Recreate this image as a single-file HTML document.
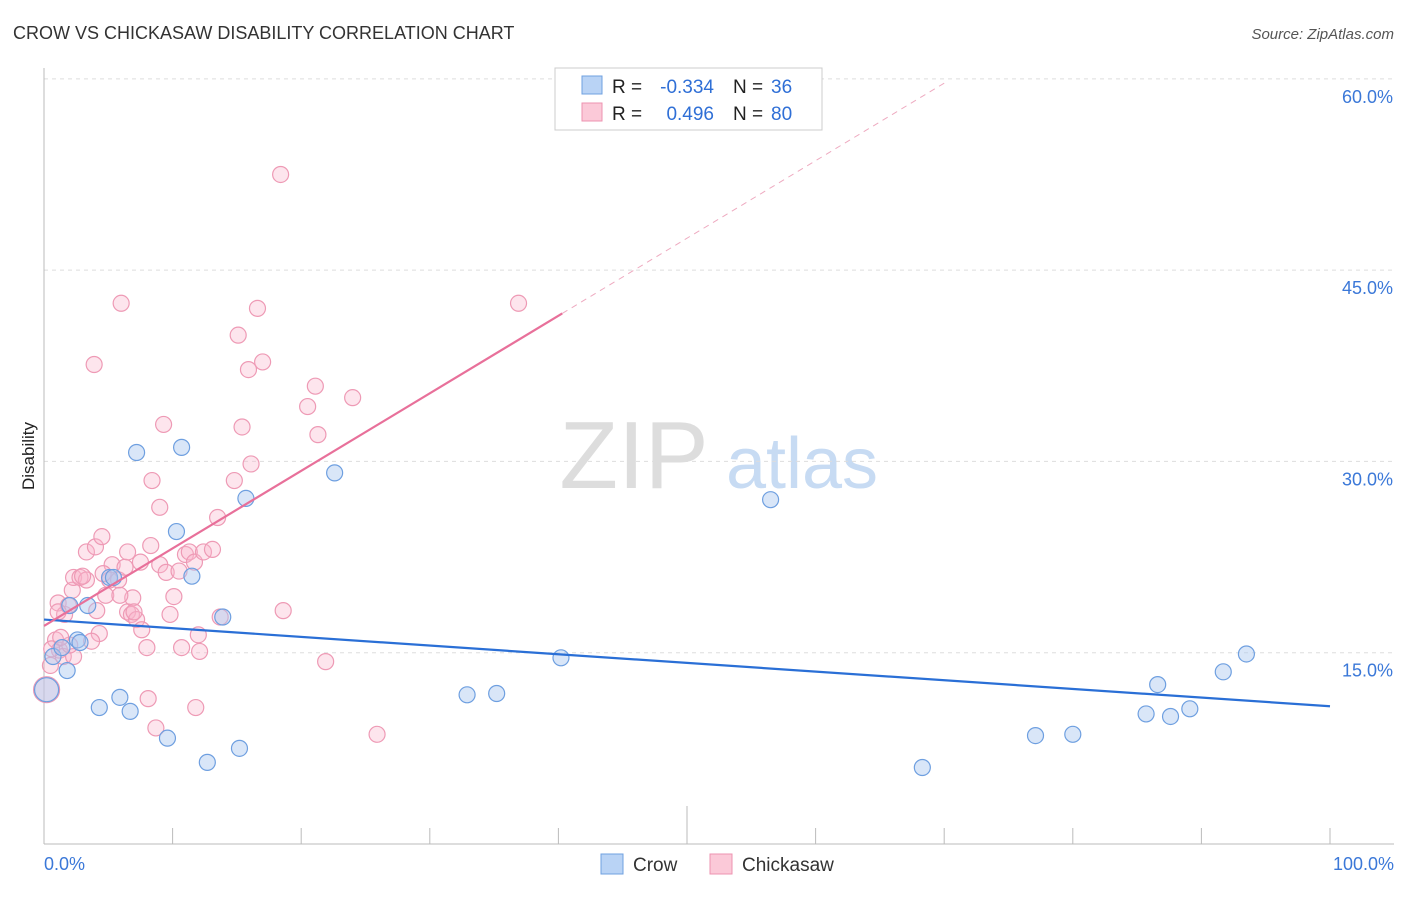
<!DOCTYPE html>
<html><head><meta charset="utf-8"><style>
body{margin:0;background:#fff;font-family:"Liberation Sans",sans-serif;}
svg text{font-family:"Liberation Sans",sans-serif;}
</style></head><body>
<svg id="chart" width="1406" height="892">
<text x="13" y="39" font-size="18" fill="#333">CROW VS CHICKASAW DISABILITY CORRELATION CHART</text>
<text x="1394" y="39" font-size="15" fill="#555" font-style="italic" text-anchor="end">Source: ZipAtlas.com</text>
<text x="634" y="488" font-size="96" fill="#ddd" font-family="Liberation Serif" text-anchor="middle">ZIP</text>
<text x="802" y="488" font-size="72" fill="#c7dbf3" text-anchor="middle">atlas</text>
<text transform="translate(34,456) rotate(-90)" font-size="17" fill="#222" text-anchor="middle">Disability</text>
<g id="grid"></g><g id="marks"></g>
<g>
<rect x="555" y="68" width="267" height="62" fill="#fff" stroke="#ccc"/>
<rect x="582" y="76" width="20" height="18" fill="#b9d3f5" stroke="#6fa0e0"/>
<rect x="582" y="103" width="20" height="18" fill="#fbc9d8" stroke="#ee93b0"/>
<text x="612" y="93" font-size="19" fill="#222">R =</text>
<text x="714" y="93" font-size="19" fill="#2f6fd6" text-anchor="end">-0.334</text>
<text x="733" y="93" font-size="19" fill="#222">N =</text>
<text x="771" y="93" font-size="19" fill="#2f6fd6">36</text>
<text x="612" y="120" font-size="19" fill="#222">R =</text>
<text x="714" y="120" font-size="19" fill="#2f6fd6" text-anchor="end">0.496</text>
<text x="733" y="120" font-size="19" fill="#222">N =</text>
<text x="771" y="120" font-size="19" fill="#2f6fd6">80</text>
</g>
<g>
<rect x="601" y="854" width="22" height="20" fill="#b9d3f5" stroke="#6fa0e0"/>
<text x="633" y="871" font-size="19" fill="#333">Crow</text>
<rect x="710" y="854" width="22" height="20" fill="#fbc9d8" stroke="#ee93b0"/>
<text x="742" y="871" font-size="19" fill="#333">Chickasaw</text>
</g>
</svg>
<script>
const yTicks=[15,30,45,60];
const xTickLabels=["0.0%","100.0%"];
const crowX=[0.2,0.7,1.8,2.6,3.4,2.0,4.3,5.1,5.4,5.9,6.7,7.2,9.6,10.3,10.7,11.5,12.7,13.9,15.2,15.7,22.6,32.9,35.2,40.2,56.5,68.3,77.1,80.0,85.7,86.6,87.6,89.1,91.7,93.5,2.8,1.4];
const crowY=[12.1,14.7,13.6,16.0,18.7,18.7,10.7,20.9,20.9,11.5,10.4,30.7,8.3,24.5,31.1,21.0,6.4,17.8,7.5,27.1,29.1,11.7,11.8,14.6,27.0,6.0,8.5,8.6,10.2,12.5,10.0,10.6,13.5,14.9,15.8,15.4];
const chX=[0.2,0.5,0.9,1.2,1.1,1.6,1.9,2.2,2.3,2.8,3.3,3.3,3.9,4.0,4.3,4.5,4.8,5.1,5.3,5.8,6.0,6.3,6.5,6.5,6.8,6.9,7.2,7.5,7.6,8.1,8.0,8.3,8.4,8.7,9.0,9.3,9.0,9.5,9.8,10.1,10.7,11.0,11.3,11.7,11.8,12.0,12.1,12.4,13.1,13.5,13.7,14.8,15.1,15.4,15.9,16.1,16.6,17.0,18.4,18.6,20.5,21.1,21.3,21.9,24.0,25.9,36.9,1.5,2.3,1.1,3.7,4.1,2.0,5.9,0.6,3.0,7.0,1.3,4.6,10.5];
const chY=[12.1,14.0,16.0,15.2,18.9,18.0,18.7,19.9,20.9,20.9,22.9,20.7,37.6,23.3,16.5,24.1,19.5,20.7,21.9,20.7,42.4,21.7,22.9,18.2,18.0,19.3,17.6,22.1,16.8,11.4,15.4,23.4,28.5,9.1,26.4,32.9,21.9,21.3,18.0,19.4,15.4,22.7,22.9,22.1,10.7,16.4,15.1,22.9,23.1,25.6,17.8,28.5,39.9,32.7,37.2,29.8,42.0,37.8,52.5,18.3,34.3,35.9,32.1,14.3,35.0,8.6,42.4,14.7,14.7,18.2,15.9,18.3,15.6,19.5,15.3,21.0,18.2,16.2,21.2,21.4];
const crowTrend=[17.6,10.8];
const chTrend=[17.1,0.608];
const NS="http://www.w3.org/2000/svg";
const sx=v=>44+v*12.86, sy=v=>844-v*12.753;
const grid=document.getElementById('grid'), marks=document.getElementById('marks');
function mk(p,tag,a){const e=document.createElementNS(NS,tag);for(const k in a)e.setAttribute(k,a[k]);p.appendChild(e);return e;}
yTicks.forEach(t=>{
 const l=mk(grid,'line',{x1:44,x2:1394,y1:sy(t),y2:sy(t),stroke:'#ddd','stroke-dasharray':'4,4'});
 
 
 const tx=mk(grid,'text',{x:1393,y:sy(t)+24,'font-size':18,fill:'#3b78d8','text-anchor':'end'});tx.textContent=t.toFixed(1)+'%';
 
 
});
mk(grid,'line',{x1:44,x2:44,y1:68,y2:844,stroke:'#bbb'});
const ax=mk(grid,'line',{x1:44,x2:1394,y1:844,y2:844,stroke:'#bbb'});


for(let i=1;i<=10;i++){mk(grid,'line',{x1:sx(i*10),x2:sx(i*10),y1:i==5?806:828,y2:844,stroke:'#bbb'});}
[[0,'start',44],[1,'end',1394]].forEach(([i,a,x])=>{const t=mk(grid,'text',{x:x,y:870,'font-size':18,fill:'#3b78d8','text-anchor':a});t.textContent=xTickLabels[i];
 
 });
chX.forEach((x,i)=>{const c=mk(marks,'circle',{cx:sx(x),cy:sy(chY[i]),r:i==0?13:8,fill:'rgba(248,180,202,0.35)',stroke:'#ee9ab5','stroke-width':1.2});
 
 });
crowX.forEach((x,i)=>{const c=mk(marks,'circle',{cx:sx(x),cy:sy(crowY[i]),r:i==0?12:8,fill:'rgba(170,200,240,0.45)',stroke:'#6e9fe0','stroke-width':1.2});
 
 });
const bt=mk(marks,'line',{x1:sx(0),y1:sy(crowTrend[0]),x2:sx(100),y2:sy(crowTrend[1]),stroke:'#2a6fd6','stroke-width':2.2});


const pt=mk(marks,'line',{x1:sx(0),y1:sy(chTrend[0]),x2:sx(40.3),y2:sy(chTrend[0]+chTrend[1]*40.3),stroke:'#e8709a','stroke-width':2.2});


const pd=mk(marks,'line',{x1:sx(40.3),y1:sy(chTrend[0]+chTrend[1]*40.3),x2:sx(70),y2:sy(chTrend[0]+chTrend[1]*70),stroke:'#eeaac0','stroke-width':1,'stroke-dasharray':'6,5'});


</script>
</body></html>
